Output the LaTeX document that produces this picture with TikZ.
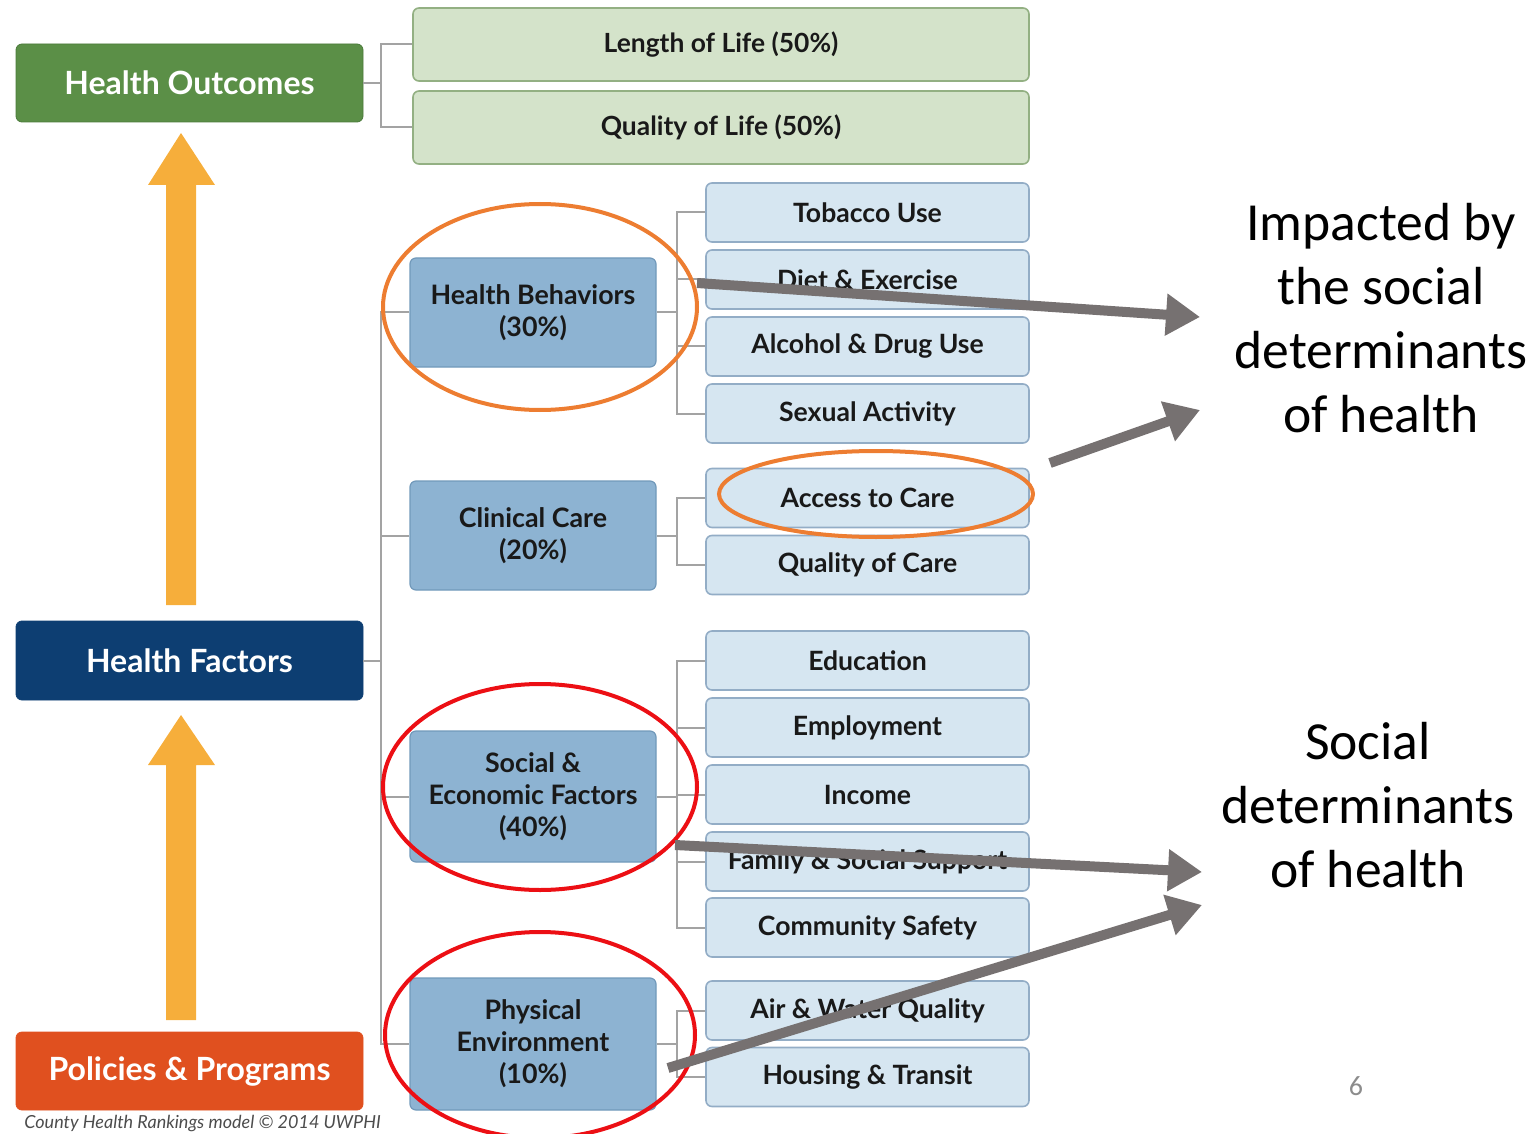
\documentclass[tikz,border=0pt]{standalone}
\usepackage{fontspec}
\setmainfont{Lato}
\newfontfamily\calib{Carlito}
\usetikzlibrary{arrows.meta,shapes.geometric}

\definecolor{outgreen}{HTML}{5B8F47}
\definecolor{outgreenline}{HTML}{4A7A3A}
\definecolor{palegreen}{HTML}{D4E3CA}
\definecolor{palegreenline}{HTML}{93B083}
\definecolor{navy}{HTML}{0D3E72}
\definecolor{polred}{HTML}{E0501F}
\definecolor{midblue}{HTML}{8DB3D2}
\definecolor{midblueline}{HTML}{7199BA}
\definecolor{paleblue}{HTML}{D6E6F1}
\definecolor{paleblueline}{HTML}{93ADC6}
\definecolor{uparrow}{HTML}{F6AE3B}
\definecolor{ringorange}{HTML}{ED7D31}
\definecolor{ringred}{HTML}{EC0F14}
\definecolor{pointer}{HTML}{767171}
\definecolor{treeline}{HTML}{A3A3A3}

\tikzset{
  x=0.5pt, y=-0.5pt,
  bigbox/.style={rounded corners=3pt, minimum width=173.5pt, minimum height=39pt,
    text=white, font=\fontsize{16}{19}\selectfont\bfseries, inner sep=0pt},
  outbox/.style={rounded corners=3pt, fill=palegreen, draw=palegreenline, line width=0.8pt,
    minimum width=308pt, minimum height=36.5pt, font=\fontsize{13.2}{15}\selectfont\bfseries,
    text=black!90, inner sep=0pt},
  midbox/.style={rounded corners=3pt, fill=midblue, draw=midblueline, line width=0.6pt,
    minimum width=123pt, align=center, font=\fontsize{13.4}{16}\selectfont\bfseries,
    text=black!90, inner sep=0pt},
  subbox/.style={rounded corners=3pt, fill=paleblue, draw=paleblueline, line width=0.8pt,
    minimum width=161.5pt, minimum height=29.5pt, font=\fontsize{13.3}{15}\selectfont\bfseries,
    text=black!90, inner sep=0pt},
  tree/.style={draw=treeline, line width=1pt},
  ring/.style={line width=2pt},
  pointarrow/.style={draw=pointer, line width=5pt,
    -{Triangle[length=17pt,width=20pt]}},
  sidetext/.style={align=center, font=\calib\fontsize{26.8}{32}\selectfont},
}

\begin{document}
\begin{tikzpicture}
\useasboundingbox (0,0) rectangle (1537,1134);

% upward arrows on the left
\fill[uparrow] (166,605) -- (166,185) -- (148,185) -- (181,133) -- (215,185)
  -- (196,185) -- (196,605) -- cycle;
\fill[uparrow] (166,1020) -- (166,765) -- (148,765) -- (181,715) -- (215,765)
  -- (196,765) -- (196,1020) -- cycle;

% main column
\node[bigbox, fill=outgreen, draw=outgreenline] (HO) at (189.5,83) {Health Outcomes};
\node[bigbox, fill=navy, draw=navy, minimum height=39.5pt] (HF) at (189.5,660.5) {Health Factors};
\node[bigbox, fill=polred, draw=polred] (PP) at (189.5,1071) {Policies \& Programs};

% outcomes
\node[outbox] (LL) at (721,44.5) {Length of Life (50\%)};
\node[outbox] (QL) at (721,127.5) {Quality of Life (50\%)};

% factor groups
\node[midbox, minimum height=54.5pt] (HB) at (533,312.5) {Health Behaviors\\(30\%)};
\node[midbox, minimum height=54.5pt] (CC) at (533,535.5) {Clinical Care\\(20\%)};
\node[midbox, minimum height=65.5pt] (SE) at (533,796.5) {Social \&\\Economic Factors\\(40\%)};
\node[midbox, minimum height=66pt] (PE) at (533,1044) {Physical\\Environment\\(10\%)};

% individual factors
\node[subbox] (TU) at (867.5,212.5) {Tobacco Use};
\node[subbox] (DE) at (867.5,279.5) {Diet \& Exercise};
\node[subbox] (AD) at (867.5,346.5) {Alcohol \& Drug Use};
\node[subbox] (SA) at (867.5,413.5) {Sexual Activity};
\node[subbox] (AC) at (867.5,498) {Access to Care};
\node[subbox] (QC) at (867.5,565) {Quality of Care};
\node[subbox] (ED) at (867.5,660.5) {Education};
\node[subbox] (EM) at (867.5,727.5) {Employment};
\node[subbox] (IN) at (867.5,794.5) {Income};
\node[subbox] (FS) at (867.5,861.5) {Family \& Social Support};
\node[subbox] (CS) at (867.5,927.5) {Community Safety};
\node[subbox] (AW) at (867.5,1010.5) {Air \& Water Quality};
\node[subbox] (HT) at (867.5,1077) {Housing \& Transit};

% tree buses
\coordinate (busA) at (381,0);
\coordinate (busB) at (677,0);

\draw[tree] (HO.east) -- (HO.east -| busA);
\draw[tree] (LL.west) -| (busA |- QL.west) -- (QL.west);

\draw[tree] (HF.east) -- (HF.east -| busA);
\draw[tree] (HB.west) -| (busA |- PE.west) -- (PE.west);
\draw[tree] (CC.west) -- (CC.west -| busA);
\draw[tree] (SE.west) -- (SE.west -| busA);

\draw[tree] (HB.east) -- (HB.east -| busB);
\draw[tree] (TU.west) -| (busB |- SA.west) -- (SA.west);
\draw[tree] (DE.west) -- (DE.west -| busB);
\draw[tree] (AD.west) -- (AD.west -| busB);

\draw[tree] (CC.east) -- (CC.east -| busB);
\draw[tree] (AC.west) -| (busB |- QC.west) -- (QC.west);

\draw[tree] (SE.east) -- (SE.east -| busB);
\draw[tree] (ED.west) -| (busB |- CS.west) -- (CS.west);
\draw[tree] (EM.west) -- (EM.west -| busB);
\draw[tree] (IN.west) -- (IN.west -| busB);
\draw[tree] (FS.west) -- (FS.west -| busB);

\draw[tree] (PE.east) -- (PE.east -| busB);
\draw[tree] (AW.west) -| (busB |- HT.west) -- (HT.west);

% highlight rings
\draw[ring, ringorange] (540,307) ellipse [x radius=157, y radius=103];
\draw[ring, ringorange] (876,494) ellipse [x radius=157, y radius=43];
\draw[ring, ringred] (540,787) ellipse [x radius=157, y radius=103];
\draw[ring, ringred] (540,1035) ellipse [x radius=155, y radius=103];

% side notes
\node[sidetext] (IMP) at (1381,318) {Impacted by\\the social\\determinants\\of health};
\node[sidetext] (SDH) at (1368,805) {Social\\determinants\\of health};

% pointers
\coordinate (p1) at (697,283);
\coordinate (p2) at (1050,463);
\coordinate (p3) at (675,845);
\coordinate (p4) at (668,1068);
\draw[pointarrow] (p1) -- (1200,317);
\draw[pointarrow] (p2) -- (1200,410);
\draw[pointarrow] (p3) -- (1202,872);
\draw[pointarrow] (p4) -- (1202,905);

% page number and credit
\node[font=\calib\fontsize{14}{16}\selectfont, text=black!45] (PN) at (1356,1086) {6};
\node[anchor=north west, inner sep=0pt, font=\fontsize{9}{11}\selectfont\itshape, text=black!70]
  (CR) at (24,1115) {County Health Rankings model \textcopyright{} 2014 UWPHI};
\end{tikzpicture}
\end{document}
